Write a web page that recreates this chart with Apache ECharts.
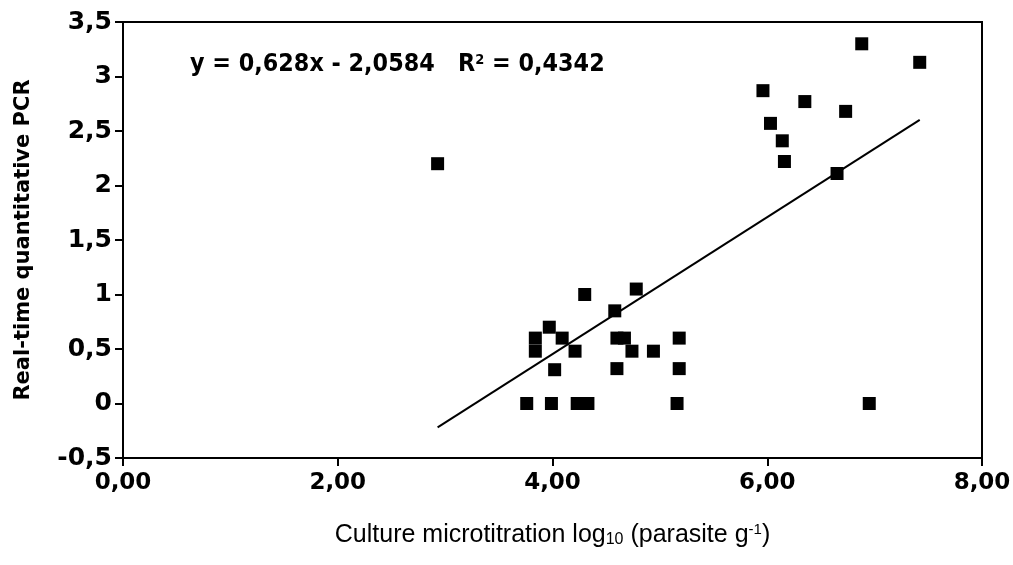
<!DOCTYPE html>
<html>
<head>
<meta charset="utf-8">
<script src="https://cdn.jsdelivr.net/npm/echarts@6/dist/echarts.min.js"></script>
<style>html,body{margin:0;padding:0;background:#fff}#c{width:1013px;height:565px}</style>
</head>
<body>
<div id="c"></div>
<script>
// Data
const xValues = [4.30, 4.78, 4.58, 3.97, 3.84, 4.09, 3.84, 4.21, 4.60, 4.67, 4.74, 4.94, 5.18, 4.02, 4.60, 5.18, 3.76, 3.99, 4.23, 4.33, 5.16, 6.95, 6.88, 7.42, 5.96, 6.35, 6.73, 6.03, 6.14, 6.16, 6.65, 2.93];
const yValues = [1.00, 1.05, 0.85, 0.70, 0.60, 0.60, 0.48, 0.48, 0.60, 0.60, 0.48, 0.48, 0.60, 0.31, 0.32, 0.32, 0.00, 0.00, 0.00, 0.00, 0.00, 0.00, 3.30, 3.13, 2.87, 2.77, 2.68, 2.57, 2.41, 2.22, 2.11, 2.20];
const slope = 0.628;
const intercept = -2.0584;
const rSquared = '0,4342';
const xTicks = [0, 2, 4, 6, 8];
const yTicks = [-0.5, 0, 0.5, 1, 1.5, 2, 2.5, 3, 3.5];

const points = xValues.map((x, i) => [x, yValues[i]]);
const xMin = Math.min(...xValues), xMax = Math.max(...xValues);
const trend = [[xMin, slope * xMin + intercept], [xMax, slope * xMax + intercept]];

const chart = echarts.init(document.getElementById('c'), null, {renderer: 'canvas'});
chart.setOption({
  animation: false,
  backgroundColor: '#fff',
  grid: {left: 123, right: 31, top: 22, bottom: 107, outerBoundsMode: 'none', containLabel: false,
    show: true, borderColor: '#000', borderWidth: 2, backgroundColor: 'transparent'},
  xAxis: {
    type: 'value', min: xTicks[0], max: xTicks[xTicks.length - 1], interval: 2,
    axisLine: {show: true, onZero: false, lineStyle: {color: '#000', width: 2}},
    axisTick: {show: true, inside: false, length: 8, lineStyle: {color: '#000', width: 2}},
    splitLine: {show: false},
    axisLabel: {color: '#000', fontFamily: 'DejaVu Sans', fontWeight: 'bold', fontSize: 23, margin: 14,
      formatter: v => v.toFixed(2).replace('.', ',')},
    name: '{a|Culture microtitration log}{s|10}{a| (parasite g}{p|-1}{a|)}',
    nameLocation: 'middle', nameGap: 64,
    nameTextStyle: {rich: {
      a: {fontFamily: 'Liberation Sans', fontSize: 25, color: '#000'},
      s: {fontFamily: 'Liberation Sans', fontSize: 16, color: '#000', verticalAlign: 'bottom', padding: [10, 0, 0, 0]},
      p: {fontFamily: 'Liberation Sans', fontSize: 15, color: '#000', verticalAlign: 'top', padding: [0, 0, 10, 0]}
    }}
  },
  yAxis: {
    type: 'value', min: yTicks[0], max: yTicks[yTicks.length - 1], interval: 0.5,
    axisLine: {show: true, onZero: false, lineStyle: {color: '#000', width: 2}},
    axisTick: {show: true, inside: false, length: 8, lineStyle: {color: '#000', width: 2}},
    splitLine: {show: false},
    axisLabel: {color: '#000', fontFamily: 'DejaVu Sans', fontWeight: 'bold', fontSize: 25, margin: 11,
      formatter: v => String(v).replace('.', ',')},
    name: 'Real-time quantitative PCR', nameLocation: 'middle', nameGap: 89,
    nameTextStyle: {fontFamily: 'DejaVu Sans', fontWeight: 'bold', fontSize: 21, color: '#000'}
  },
  series: [
    {type: 'line', data: trend, symbol: 'none', lineStyle: {color: '#000', width: 2}, z: 2},
    {type: 'scatter', data: points, symbol: 'rect', symbolSize: 13, itemStyle: {color: '#000', opacity: 1}, z: 3}
  ],
  graphic: [{
    type: 'text', left: 190, top: 53, scaleX: 0.93,
    style: {
      text: '{a|y = 0,628x - 2,0584   R}{p|2}{a| = ' + rSquared + '}',
      rich: {
        a: {fontFamily: 'DejaVu Sans', fontWeight: 'bold', fontSize: 24, fill: '#000'},
        p: {fontFamily: 'DejaVu Sans', fontWeight: 'bold', fontSize: 14, fill: '#000', verticalAlign: 'top', padding: [0, 0, 10, 0]}
      }
    }
  }]
});
</script>
</body>
</html>
